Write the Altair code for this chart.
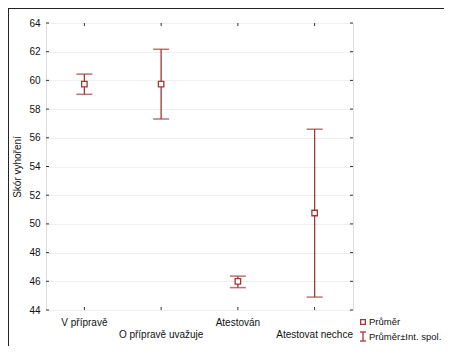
import altair as alt
import pandas as pd

categories = ["V přípravě", "O přípravě uvažuje", "Atestován", "Atestovat nechce"]
means = [59.74, 59.74, 46.0, 50.76]
lower = [59.03, 57.31, 45.56, 44.9]
upper = [60.44, 62.17, 46.36, 56.6]
y_ticks = [44, 46, 48, 50, 52, 54, 56, 58, 60, 62, 64]
legend_labels = ["Průměr", "Průměr±Int. spol."]
row1 = ["V přípravě", "Atestován"]

RED = "#a33636"
W, H = 307, 287

df = pd.DataFrame({"cat": categories, "mean": means, "lo": lower, "hi": upper})
df["row"] = [0 if c in row1 else 1 for c in categories]
ticks_df = pd.DataFrame({"v": y_ticks})
leg_df = pd.DataFrame({"label": legend_labels, "row": [0, 1]})

xs = alt.X("cat:N", sort=categories, scale=alt.Scale(paddingInner=0, paddingOuter=0),
           axis=None)
yscale = alt.Scale(domain=[44, 64], nice=False, zero=False)
yaxis = alt.Axis(values=y_ticks, grid=True, gridColor="#efefef", domain=False, ticks=False,
                 labelOverlap=False, tickCount=11,
                 labelFont="Liberation Sans", labelFontSize=10, labelColor="#111",
                 labelPadding=6, title="Skór vyhoření", titleFont="Liberation Sans",
                 titleFontSize=10, titleFontWeight="normal", titleColor="#111",
                 titlePadding=6)


def Y(field):
    return alt.Y(field, scale=yscale, axis=yaxis)


base = alt.Chart(df)

grid = alt.Chart(ticks_df).mark_rule(opacity=0).encode(y=Y("v:Q"))

bars = base.mark_rule(color=RED, strokeWidth=1.3).encode(
    x=xs, y=Y("lo:Q"), y2="hi:Q")
capl = base.mark_tick(color=RED, size=16, thickness=1.5, orient="horizontal").encode(
    x=xs, y=Y("lo:Q"))
caph = base.mark_tick(color=RED, size=16, thickness=1.5, orient="horizontal").encode(
    x=xs, y=Y("hi:Q"))
pts = base.mark_point(shape="square", filled=False, color=RED, fill="white",
                      fillOpacity=1, strokeWidth=1.3, size=30, opacity=1).encode(
    x=xs, y=Y("mean:Q"))

# inward ticks
ytick_l = alt.Chart(ticks_df).mark_rule(color="#333").encode(
    y=Y("v:Q"), x=alt.value(0), x2=alt.value(3))
ytick_r = alt.Chart(ticks_df).mark_rule(color="#333").encode(
    y=Y("v:Q"), x=alt.value(W - 3), x2=alt.value(W))
xtick_b = base.mark_rule(color="#333").encode(x=xs, y=alt.value(H - 3), y2=alt.value(H))
xtick_t = base.mark_rule(color="#333").encode(x=xs, y=alt.value(0), y2=alt.value(3))

labels1 = base.transform_filter("datum.row == 0").mark_text(
    font="Liberation Sans", fontSize=10, color="#111", baseline="middle").encode(
    x=xs, y=alt.value(300), text="cat:N")
labels2 = base.transform_filter("datum.row == 1").mark_text(
    font="Liberation Sans", fontSize=10, color="#111", baseline="middle").encode(
    x=xs, y=alt.value(312), text="cat:N")

# legend (drawn by hand)
lb = alt.Chart(leg_df)
leg_sq = lb.transform_filter("datum.row == 0").mark_point(
    shape="square", filled=False, color=RED, fill="white", fillOpacity=1,
    strokeWidth=1.3, size=22, clip=False).encode(x=alt.value(317), y=alt.value(299))
leg_t1 = lb.transform_filter("datum.row == 0").mark_text(
    font="Liberation Sans", fontSize=9.5, color="#111", align="left", baseline="middle",
    clip=False).encode(x=alt.value(323), y=alt.value(299), text="label:N")
leg_bar = lb.transform_filter("datum.row == 1").mark_rule(
    color=RED, strokeWidth=1.3, clip=False).encode(
    x=alt.value(317), y=alt.value(309), y2=alt.value(318))
leg_c1 = lb.transform_filter("datum.row == 1").mark_rule(
    color=RED, strokeWidth=1.3, clip=False).encode(
    x=alt.value(314), x2=alt.value(320), y=alt.value(309))
leg_c2 = lb.transform_filter("datum.row == 1").mark_rule(
    color=RED, strokeWidth=1.3, clip=False).encode(
    x=alt.value(314), x2=alt.value(320), y=alt.value(318))
leg_t2 = lb.transform_filter("datum.row == 1").mark_text(
    font="Liberation Sans", fontSize=9.5, color="#111", align="left", baseline="middle",
    clip=False).encode(x=alt.value(323), y=alt.value(314), text="label:N")

# outer frame
frame_top = base.mark_rule(color="#222", strokeWidth=1.5, clip=False).encode(
    x=alt.value(-38), x2=alt.value(420), y=alt.value(-15))
frame_left = base.mark_rule(color="#222", strokeWidth=1.5, clip=False).encode(
    x=alt.value(-38), y=alt.value(-15), y2=alt.value(330))

chart = alt.layer(grid, frame_top, frame_left, ytick_l, ytick_r, xtick_b, xtick_t,
                  bars, capl, caph, pts, labels1, labels2,
                  leg_sq, leg_t1, leg_bar, leg_c1, leg_c2, leg_t2).properties(
    width=W, height=H,
    autosize=alt.AutoSizeParams(type="none"),
    padding={"left": 38, "top": 15, "right": 91, "bottom": 36},
).configure_view(stroke="#333", strokeWidth=1.3).configure_axis(
    labelOverlap=False).configure(background="white")

chart.save("out.html", embed_options={"renderer": "svg", "actions": False})
